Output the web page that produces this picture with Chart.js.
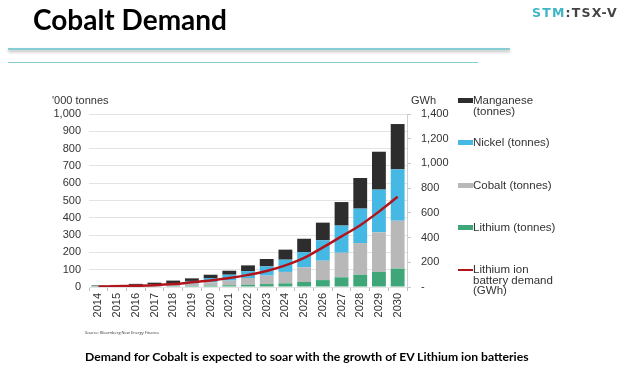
<!DOCTYPE html>
<html>
<head>
<meta charset="utf-8">
<script src="https://cdn.jsdelivr.net/npm/chart.js@4.4.1/dist/chart.umd.min.js"></script>
<style>
  body { margin: 0; background: #fff; }
  #page { position: relative; width: 642px; height: 376px; overflow: hidden; font-family: "Liberation Sans", Arial, sans-serif; }
  #c { position: absolute; left: 0; top: 0; }
  .abs { position: absolute; white-space: nowrap; }
  #title { left: 33px; top: 2px; font-family: Lato, "Open Sans", sans-serif; font-weight: 700; font-size: 28px; color: #000; }
  #tick { left: 532px; top: 5px; font-family: "DejaVu Sans", sans-serif; font-weight: 700; font-size: 12.5px; color: #444; letter-spacing: 1.2px; }
  #tick span { color: #3fb6c6; }
  #line1 { left: 8px; top: 48px; width: 502px; height: 2px; background: #86cdd4; box-shadow: 0 2px 3px rgba(0,0,0,0.3); }
  #line2 { left: 8px; top: 62px; width: 470px; height: 1px; background: #86cdd4; }
  .unit { font-size: 11px; color: #333; top: 94px; }
  .leg { left: 458px; font-size: 11.5px; line-height: 10.7px; color: #333; }
  .leg i { position: absolute; left: 0; width: 15px; }
  .leg div { position: absolute; left: 15px; }
  #source { left: 85px; top: 330px; font-family: "Open Sans", sans-serif; font-size: 4px; color: #333; }
  #caption { left: 85px; top: 349px; font-family: Lato, "Open Sans", sans-serif; font-weight: 700; font-size: 12.2px; color: #000; }
</style>
</head>
<body>
<div id="page">
  <canvas id="c" width="642" height="376"></canvas>
  <div class="abs" id="title">Cobalt Demand</div>
  <div class="abs" id="tick"><span>STM</span>:TSX-V</div>
  <div class="abs" id="line1"></div>
  <div class="abs" id="line2"></div>
  <div class="abs unit" style="left:52px">'000 tonnes</div>
  <div class="abs unit" style="left:411px">GWh</div>
  <div id="legend"></div>
  <div class="abs" id="source">Source: Bloomberg New Energy Finance</div>
  <div class="abs" id="caption">Demand for Cobalt is expected to soar with the growth of EV Lithium ion batteries</div>
</div>
<script>
var years = ["2014", "2015", "2016", "2017", "2018", "2019", "2020", "2021", "2022",
             "2023", "2024", "2025", "2026", "2027", "2028", "2029", "2030"];

// '000 tonnes, stacked from the bottom up
var lithium   = [2, 2, 3, 4, 5, 6, 8, 10, 13, 17, 21, 29, 40, 56, 71, 87, 106];
var cobalt    = [2, 3, 4, 6, 8, 13, 19, 27, 39, 49, 66, 85, 112, 142, 183, 229, 277];
var nickel    = [2, 3, 5, 7, 10, 16, 25, 34, 40, 53, 71, 88, 118, 157, 199, 247, 297];
var manganese = [3, 4, 6, 8, 14, 15, 19, 23, 33, 43, 58, 77, 102, 136, 177, 219, 262];

// GWh, right axis
var batteryDemand = [3, 6, 10, 15, 24, 38, 52, 72, 98, 130, 175, 235, 320, 410, 500, 610, 730];

var leftTicks = [0, 100, 200, 300, 400, 500, 600, 700, 800, 900, 1000];
var rightTicks = [0, 200, 400, 600, 800, 1000, 1200, 1400];

var names = ["Manganese (tonnes)", "Nickel (tonnes)", "Cobalt (tonnes)", "Lithium (tonnes)", "Lithium ion battery demand (GWh)"];
var colors = ["#2d2d2d", "#45b8e4", "#b8b8b8", "#3ea678", "#b3141c"];

function bar(label, data, color) {
    return {
        type: 'bar',
        label: label,
        data: data,
        backgroundColor: color,
        borderWidth: 0,
        barPercentage: 0.74,
        categoryPercentage: 1,
        yAxisID: 'y',
        stack: 'm',
        order: 1
    };
}

var ctx = document.getElementById("c").getContext('2d');
var chart = new Chart(ctx, {
    data: {
        labels: years,
        datasets: [
            bar(names[3], lithium, colors[3]),
            bar(names[2], cobalt, colors[2]),
            bar(names[1], nickel, colors[1]),
            bar(names[0], manganese, colors[0]),
            {
                type: 'line',
                label: names[4],
                data: batteryDemand,
                borderColor: colors[4],
                borderWidth: 2.5,
                pointRadius: 0,
                cubicInterpolationMode: 'monotone',
                yAxisID: 'y1',
                order: 0
            }
        ]
    },
    options: {
        responsive: false,
        animation: false,
        devicePixelRatio: 1,
        layout: { padding: { left: 40, top: 114, right: 0, bottom: 0 } },
        plugins: { legend: { display: false }, tooltip: { enabled: false } },
        scales: {
            x: {
                stacked: true,
                grid: { offset: true, drawOnChartArea: false, tickLength: 4, color: '#bdbdbd' },
                border: { display: false },
                ticks: {
                    minRotation: 90, maxRotation: 90, padding: 2, autoSkip: false,
                    color: '#333', font: { family: 'Liberation Sans', size: 11 }
                },
                afterFit: function (s) { s.height = 89; }
            },
            y: {
                position: 'left',
                stacked: true,
                min: 0, max: 1000,
                afterBuildTicks: function (s) { s.ticks = leftTicks.map(function (v) { return { value: v }; }); },
                grid: { drawTicks: false, color: '#e3e3e3' },
                border: { display: false },
                ticks: {
                    padding: 8, color: '#333', font: { family: 'Liberation Sans', size: 11 },
                    callback: function (v) { return v.toLocaleString('en-US'); }
                },
                afterFit: function (s) { s.width = 49; }
            },
            y1: {
                position: 'right',
                min: 0, max: 1400,
                afterBuildTicks: function (s) { s.ticks = rightTicks.map(function (v) { return { value: v }; }); },
                grid: { drawOnChartArea: false, tickLength: 4, color: '#c8c8c8' },
                border: { display: true, color: '#cfcfcf' },
                ticks: {
                    padding: 10, color: '#333', font: { family: 'Liberation Sans', size: 11 },
                    callback: function (v) { return v === 0 ? '-' : v.toLocaleString('en-US'); }
                },
                afterFit: function (s) { s.width = 235; }
            }
        }
    }
});

// legend built from the series names / colours
var legendTops = [95, 137, 180, 222, 264];
var legendHtml = '';
names.forEach(function (n, i) {
    var text = n;
    if (i === 0) text = 'Manganese<br>(tonnes)';
    if (i === 4) text = 'Lithium ion<br>battery demand<br>(GWh)';
    var icon = i === 4
        ? '<i style="top:5px;height:2px;background:' + colors[i] + '"></i>'
        : '<i style="top:3px;height:5px;background:' + colors[i] + '"></i>';
    legendHtml += '<div class="abs leg" style="top:' + legendTops[i] + 'px">' + icon + '<div>' + text + '</div></div>';
});
document.getElementById('legend').innerHTML = legendHtml;
</script>
</body>
</html>
